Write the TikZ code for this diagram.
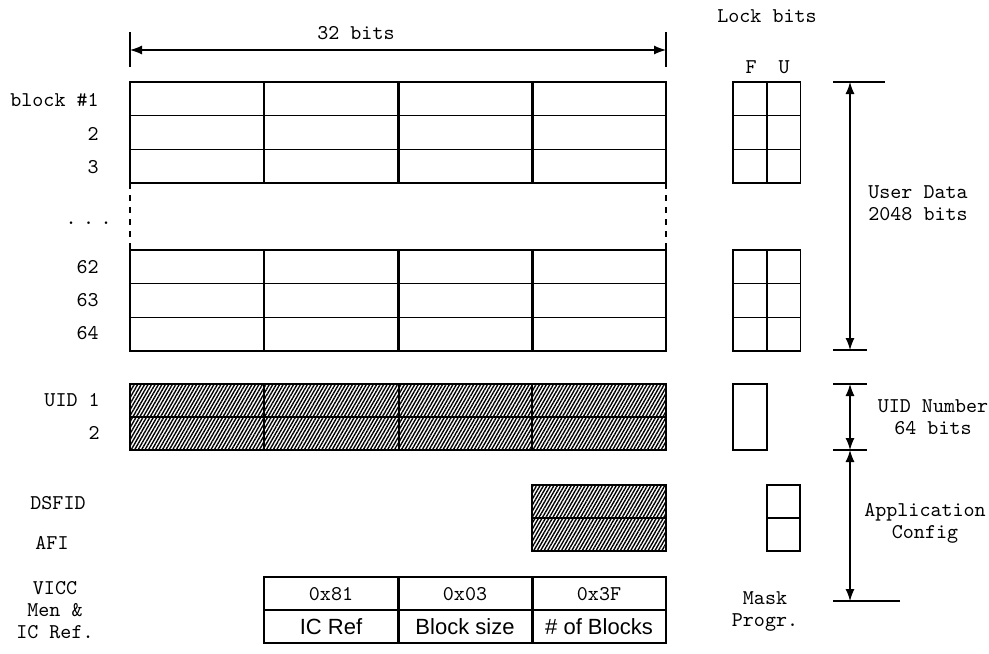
\documentclass[tikz,border=0pt]{standalone}
\usepackage{fontspec}
\setsansfont{Liberation Sans}
\usetikzlibrary{arrows.meta,patterns.meta}
\newcommand{\monolbl}{\ttfamily\fontsize{10.5}{11}\selectfont}

\begin{document}
\begin{tikzpicture}[x=0.5pt, y=-0.5pt,
      cell/.style={draw=black, line width=0.75pt},
      hatched/.style={cell, pattern={Lines[angle=60,distance=1.5pt,line width=0.7pt]},
                      pattern color=black},
      lbl/.style={font=\monolbl, inner sep=0pt},
      sanslbl/.style={font=\sffamily\fontsize{11}{13}\selectfont, inner sep=0pt},
      dim/.style={{Latex[length=6pt,width=4.5pt]}-{Latex[length=6pt,width=4.5pt]},
                  line width=0.6pt},
      tickline/.style={line width=0.6pt}]

    \useasboundingbox (0,0) rectangle (989,653);

    % data blocks and their lock bits
    \foreach \ry in {82,250} {
      \foreach \r in {0,1,2} {
        \foreach \x in {130,264,399,532}
          \draw[cell] (\x,\ry+\r*33.67) rectangle ++(134,33.67);
        \foreach \x in {733,767}
          \draw[cell] (\x,\ry+\r*33.67) rectangle ++(33.5,33.67);
      }
    }
    \draw[cell, dashed] (130,183) -- (130,250);
    \draw[cell, dashed] (666,183) -- (666,250);

    % UID
    \draw[hatched] (130,384) rectangle (666,450);
    \draw[cell] (130,417) -- (666,417);
    \foreach \x in {264,399,532}
      \draw[cell] (\x,384) -- (\x,450);
    \draw[cell] (733,384) rectangle (767,450);

    % DSFID / AFI
    \draw[hatched] (532,485) rectangle (666,551);
    \draw[cell] (532,518) -- (666,518);
    \draw[cell] (767,485) rectangle (800,551);
    \draw[cell] (767,518) -- (800,518);

    % VICC memory and IC reference
    \foreach \x in {264,399,532}
      \foreach \ry in {577,610}
        \draw[cell] (\x,\ry) rectangle ++(134,33);

    \node[lbl] (hex81) at (331,594) {0x81};
    \node[lbl] (hex03) at (465,594) {0x03};
    \node[lbl] (hex3f) at (599,594) {0x3F};
    \node[sanslbl] (icref)  at (331,627) {IC Ref};
    \node[sanslbl] (blksz)  at (465,627) {Block size};
    \node[sanslbl] (nblks)  at (599,627) {\# of Blocks};

    % width dimension
    \coordinate (wl) at (130,50);
    \coordinate (wr) at (666,50);
    \draw[tickline] (130,32) -- (130,67);
    \draw[tickline] (666,32) -- (666,67);
    \draw[dim] (wl) -- (wr);
    \node[lbl] (width) at (356,33) {32 bits};

    % right hand dimensions
    \coordinate (udtop)  at (850,82);
    \coordinate (udbot)  at (850,350);
    \coordinate (uidtop) at (850,384);
    \coordinate (uidbot) at (850,450);
    \coordinate (appbot) at (850,601);
    \draw[tickline] (833,82)  -- (885,82);
    \draw[tickline] (833,350) -- (867,350);
    \draw[tickline] (833,384) -- (867,384);
    \draw[tickline] (833,450) -- (867,450);
    \draw[tickline] (833,601) -- (900,601);
    \draw[dim] (udtop)  -- (udbot);
    \draw[dim] (uidtop) -- (uidbot);
    \draw[dim] (uidbot) -- (appbot);

    \node[lbl, align=center] (userdata) at (918,203) {User Data\\2048 bits};
    \node[lbl, align=center] (uidnum)   at (933,417) {UID Number\\64 bits};
    \node[lbl, align=center] (appcfg)   at (925,523) {Application\\Config};
    \node[lbl, align=center] (mask)     at (765,611) {Mask\\Progr.};

    \node[lbl] (lockbits) at (767,16) {Lock bits};
    \node[lbl] (lockf) at (751,67) {F};
    \node[lbl] (locku) at (784,67) {U};

    % row labels
    \node[lbl, anchor=east] (blk1)  at (99,100) {block \#1};
    \node[lbl, anchor=east] (blk2)  at (99,134) {2};
    \node[lbl, anchor=east] (blk3)  at (99,167) {3};
    \node[lbl, anchor=east] (dots)  at (112,223) {.\kern3.2pt.\kern3.2pt.};
    \node[lbl, anchor=east] (blk62) at (99,267) {62};
    \node[lbl, anchor=east] (blk63) at (99,300) {63};
    \node[lbl, anchor=east] (blk64) at (99,333) {64};
    \node[lbl, anchor=east] (uid1)  at (100,400) {UID 1};
    \node[lbl, anchor=east] (uid2)  at (100,433) {2};
    \node[lbl] (dsfid) at (58,503) {DSFID};
    \node[lbl] (afi)   at (52,543) {AFI};
    \node[lbl, align=center] (vicc) at (55,610) {VICC\\[0pt]Men \&\\[0pt]IC Ref.};
  \end{tikzpicture}
\end{document}
